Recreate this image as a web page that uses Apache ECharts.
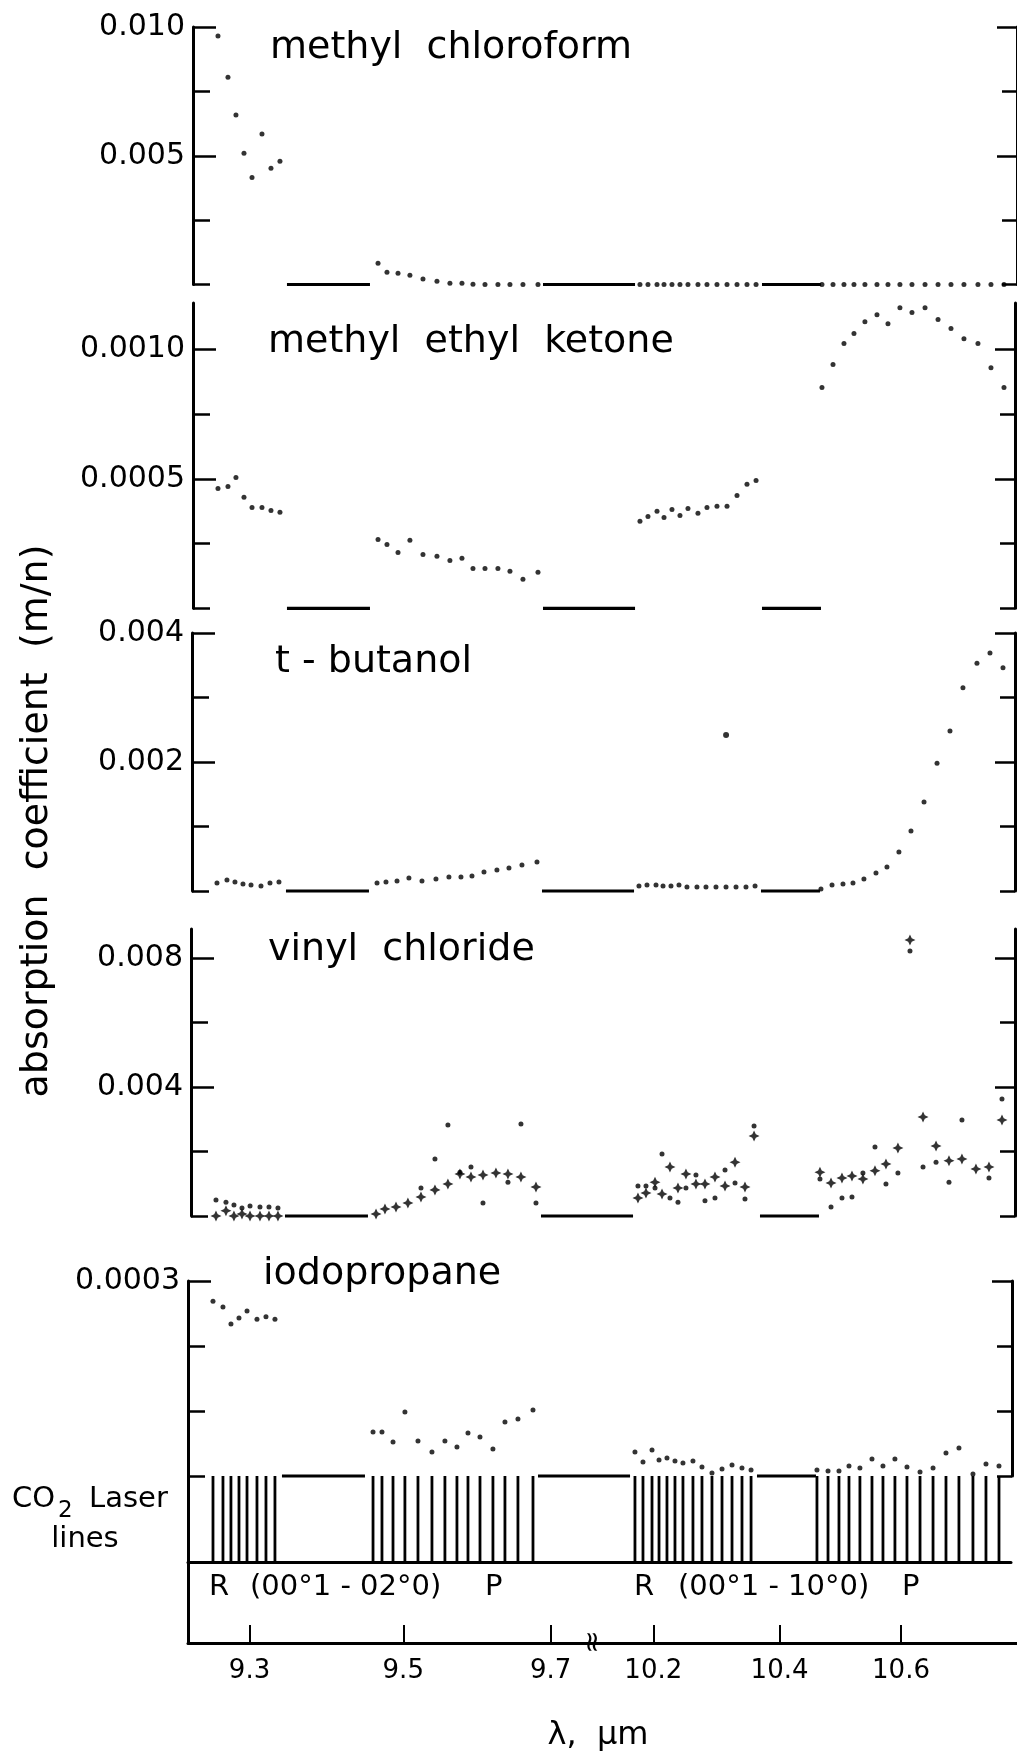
<!DOCTYPE html>
<html><head><meta charset="utf-8">
<script src="https://cdn.jsdelivr.net/npm/echarts@6/dist/echarts.min.js"></script>
<style>html,body{margin:0;padding:0;background:#fff}#c{width:1017px;height:1755px}</style>
</head><body><div id="c"></div>
<script>
// ---------------- DATA ----------------
// CO2 laser line wavelengths (µm): 9R, 9P, 10R, 10P branches
const laserLines = [
  9.2537, 9.2663, 9.2764, 9.2866, 9.2968, 9.3095, 9.3210, 9.3325,
  9.4600, 9.4718, 9.4864, 9.5022, 9.5196, 9.5383, 9.5557, 9.5719, 9.5868, 9.6031, 9.6207, 9.6371, 9.6549, 9.6756,
  10.1716, 10.1840, 10.1980, 10.2089, 10.2213, 10.2338, 10.2463, 10.2620, 10.2762, 10.2920, 10.3079, 10.3238, 10.3397, 10.3542,
  10.4608, 10.4789, 10.4969, 10.5134, 10.5315, 10.5515, 10.5698, 10.5898, 10.6100, 10.6320, 10.6540, 10.6760, 10.6981, 10.7221, 10.7445, 10.7670
];
// absorption coefficients at each laser line
const methylChloroform = [
  0.00965, 0.00805, 0.00658, 0.00510, 0.00416, 0.00584, 0.00451, 0.00479,
  0.00083, 0.00048, 0.00044, 0.00036, 0.00021, 0.00013, 0.00005, 0.00005, 0.00001, 0, 0, 0, 0, 0,
  0, 0, 0, 0, 0, 0, 0, 0, 0, 0, 0, 0, 0, 0,
  0, 0, 0, 0, 0, 0, 0, 0, 0, 0, 0, 0, 0, 0, 0, 0
];
const methylEthylKetone = [
  0.000463, 0.000471, 0.000506, 0.000429, 0.000390, 0.000390, 0.000378, 0.000371,
  0.000266, 0.000247, 0.000216, 0.000263, 0.000208, 0.000201, 0.000185, 0.000193, 0.000154, 0.000154, 0.000154, 0.000143, 0.000112, 0.000139,
  0.000336, 0.000355, 0.000375, 0.000351, 0.000382, 0.000359, 0.000386, 0.000367, 0.000390, 0.000394, 0.000394, 0.000436, 0.000479, 0.000494,
  0.000853, 0.000942, 0.001023, 0.001062, 0.001108, 0.001135, 0.001100, 0.001162, 0.001143, 0.001162, 0.001116, 0.001081, 0.001042, 0.001023, 0.000930, 0.000853
];
const tButanol = [
  0.000124, 0.000171, 0.000140, 0.000109, 0.000093, 0.000078, 0.000124, 0.000140,
  0.000124, 0.000140, 0.000155, 0.000202, 0.000155, 0.000186, 0.000217, 0.000217, 0.000233, 0.000295, 0.000326, 0.000357, 0.000403, 0.000450,
  0.000078, 0.000093, 0.000093, 0.000078, 0.000078, 0.000093, 0.000062, 0.000062, 0.000062, 0.000062, 0.000062, 0.000062, 0.000062, 0.000078,
  0.000031, 0.000093, 0.000109, 0.000124, 0.000186, 0.000279, 0.000372, 0.000605, 0.000930, 0.00138, 0.00198, 0.00248, 0.00315, 0.00353, 0.00369, 0.00346
];
const tButanolStray = [[10.308, 0.00242]];
const vinylChlorideCross = [
  0, 0.00016, 0, 0.00006, 0, 0, 0, 0,
  0.00006, 0.00022, 0.00028, 0.00040, 0.00059, 0.00081, 0.00099, 0.00130, 0.00121, 0.00127, 0.00133, 0.00130, 0.00121, 0.00090,
  0.00056, 0.00071, 0.00105, 0.00068, 0.00152, 0.00087, 0.00130, 0.00099, 0.00099, 0.00121, 0.00093, 0.00167, 0.00090, 0.00248,
  0.00136, 0.00102, 0.00118, 0.00124, 0.00115, 0.00140, 0.00161, 0.00211, 0.00856, 0.00307, 0.00217, 0.00171, 0.00177, 0.00146, 0.00152, 0.00298
];
const vinylChlorideDot = [
  0.00050, 0.00043, 0.00034, 0.00025, 0.00031, 0.00028, 0.00028, 0.00025,
  null, null, null, null, 0.00087, 0.00177, 0.00282, 0.00136, 0.00152, 0.00040, null, 0.00105, 0.00285, 0.00040,
  0.00093, 0.00093, 0.00087, 0.00192, 0.00056, 0.00043, 0.00087, 0.00127, 0.00047, 0.00056, 0.00143, 0.00102, 0.00053, 0.00279,
  0.00115, 0.00028, 0.00056, 0.00059, 0.00133, 0.00214, 0.00099, 0.00133, 0.00822, 0.00152, 0.00167, 0.00105, 0.00298, null, 0.00118, 0.00363
];
const iodopropane = [
  0.000269, 0.000260, 0.000234, 0.000243, 0.000254, 0.000241, 0.000245, 0.000241,
  0.0000677, 0.0000677, 0.0000523, 0.0000984, 0.0000538, 0.0000369, 0.0000538, 0.0000446, 0.0000661, 0.0000600, 0.0000415, 0.0000830, 0.0000877, 0.0001015,
  0.0000369, 0.0000215, 0.0000400, 0.0000246, 0.0000277, 0.0000231, 0.0000200, 0.0000231, 0.0000138, 0.0000046, 0.0000108, 0.0000169, 0.0000123, 0.0000092,
  0.0000092, 0.0000077, 0.0000077, 0.0000154, 0.0000123, 0.0000261, 0.0000154, 0.0000261, 0.0000138, 0.0000062, 0.0000123, 0.0000354, 0.0000431, 0.0000031, 0.0000185, 0.0000154
];
// zero-baseline segments between laser bands (µm)
const zeroSegments = [[9.3415, 9.4494], [9.6825, 10.1640], [10.3637, 10.4592]];
// x tick labels (µm)
const xTicksLeft = [9.3, 9.5, 9.7];
const xTicksRight = [10.2, 10.4, 10.6];
// y ticks per panel
const yTicks1 = [0, 0.0025, 0.005, 0.0075, 0.010], yLabels1 = [0.005, 0.010];
const yTicks2 = [0, 0.00025, 0.0005, 0.00075, 0.001], yLabels2 = [0.0005, 0.001];
const yTicks3 = [0, 0.001, 0.002, 0.003, 0.004], yLabels3 = [0.002, 0.004];
const yTicks4 = [0, 0.002, 0.004, 0.006, 0.008], yLabels4 = [0.004, 0.008];
const yTicks5 = [0, 0.0001, 0.0002, 0.0003], yLabels5 = [0.0003];

// ---------------- LAYOUT ----------------
const FONT = 'DejaVu Sans';
const X0 = 188, XB = 594, W_L = XB - X0;
const PX_WN_L = 6.791, PX_WN_R = 6.696;   // px per cm^-1 (axis linear in wavenumber)
const WN_L_MAX = 1e4 / 9.2223, WN_R_MAX = 1e4 / 10.1087;
const WN_L_MIN = WN_L_MAX - W_L / PX_WN_L;
const LAMBDA_BREAK_L = 1e4 / WN_L_MIN, LAMBDA_BREAK_R = 1e4 / WN_R_MAX;
const wn = l => 1e4 / l;

const grid = [], xAxis = [], yAxis = [], series = [];

function addPair(shift, top, bottom, rEdge, xShow) {
  const h = bottom - top;
  const gL = grid.length;
  const wR = rEdge - XB - shift;
  grid.push({left: X0 + shift, top: top, width: W_L, height: h});
  grid.push({left: XB + shift, top: top, width: wR, height: h});
  const xi = xAxis.length;
  const base = {type: 'value', inverse: true, show: false, splitLine: {show: false}};
  xAxis.push(Object.assign({}, base, {gridIndex: gL, min: WN_L_MIN, max: WN_L_MAX}, xShow ? xShow(xTicksLeft) : {}));
  xAxis.push(Object.assign({}, base, {gridIndex: gL + 1, min: WN_R_MAX - wR / PX_WN_R, max: WN_R_MAX}, xShow ? xShow(xTicksRight) : {}));
  return {gL: gL, gR: gL + 1, xL: xi, xR: xi + 1};
}

function addY(gridIndex, pos, max, major, minor, majLen, minLen, fmt, showLine) {
  const idx = yAxis.length;
  yAxis.push({
    gridIndex: gridIndex, type: 'value', position: pos, min: 0, max: max,
    axisLine: {show: showLine !== false, onZero: false, lineStyle: {color: '#000', width: 3}},
    axisTick: major && major.length ? {show: true, inside: true, length: majLen, customValues: major, lineStyle: {color: '#000', width: 2.5}} : {show: false},
    axisLabel: fmt ? {show: true, customValues: major, formatter: fmt, fontSize: 30, fontFamily: FONT, color: '#000', margin: 8} : {show: false},
    splitLine: {show: false}
  });
  if (minor && minor.length) {
    yAxis.push({
      gridIndex: gridIndex, type: 'value', position: pos, min: 0, max: max,
      axisLine: {show: false, onZero: false},
      axisTick: {show: true, inside: true, length: minLen, customValues: minor, lineStyle: {color: '#000', width: 2.5}},
      axisLabel: {show: false}, splitLine: {show: false}
    });
  }
  return idx;
}

const STAR = 'path://M0,-5L1.6,-1.6L5,0L1.6,1.6L0,5L-1.6,1.6L-5,0L-1.6,-1.6Z';

const panels = [
  {s: 5, top: 27, bottom: 284.5, r: 1017, max: 0.010, ticks: yTicks1, labels: yLabels1, dec: 3,
   sets: [{vals: methylChloroform, sym: 'circle', size: 5}]},
  {s: 5, top: 303, bottom: 608.3, r: 1015, max: 0.00118, ticks: yTicks2, labels: yLabels2, dec: 4,
   sets: [{vals: methylEthylKetone, sym: 'circle', size: 5}]},
  {s: 4, top: 633, bottom: 891, r: 1015, max: 0.004, ticks: yTicks3, labels: yLabels3, dec: 3,
   sets: [{vals: tButanol, sym: 'circle', size: 5}, {pairs: tButanolStray, sym: 'circle', size: 6}]},
  {s: 3, top: 929, bottom: 1216, r: 1015, max: 0.0089, ticks: yTicks4, labels: yLabels4, dec: 3,
   sets: [{vals: vinylChlorideCross, sym: STAR, size: 11}, {vals: vinylChlorideDot, sym: 'circle', size: 5}]},
  {s: 0, top: 1281, bottom: 1476, r: 1012, max: 0.0003, ticks: yTicks5, labels: yLabels5, dec: 4,
   sets: [{vals: iodopropane, sym: 'circle', size: 5}]}
];

panels.forEach(function (p) {
  const g = addPair(p.s, p.top, p.bottom, p.r);
  const minor = p.ticks.filter(v => p.labels.indexOf(v) < 0);
  const fmt = v => v.toFixed(p.dec);
  const yl = addY(g.gL, 'left', p.max, p.labels, minor, 23, 17, fmt, true);
  const yr = addY(g.gR, 'right', p.max, p.labels, minor, 20, 15, null, true);
  const sides = [
    {x: g.xL, y: yl, test: l => l < 10, clamp: seg => [seg[0], Math.min(seg[1], LAMBDA_BREAK_L)]},
    {x: g.xR, y: yr, test: l => l > 10, clamp: seg => [Math.max(seg[0], LAMBDA_BREAK_R), seg[1]]}
  ];
  sides.forEach(function (sd) {
    p.sets.forEach(function (st) {
      let pts = st.pairs ? st.pairs.map(d => [d[0], d[1]]) : laserLines.map((l, i) => [l, st.vals[i]]);
      pts = pts.filter(d => d[1] != null && sd.test(d[0])).map(d => [wn(d[0]), d[1]]);
      series.push({type: 'scatter', xAxisIndex: sd.x, yAxisIndex: sd.y, data: pts, symbol: st.sym,
        symbolSize: st.size, itemStyle: {color: '#000'}, silent: true, clip: false});
    });
    zeroSegments.forEach(function (seg) {
      if (sd.test(seg[0]) || sd.test(seg[1])) {
        const c = sd.clamp(seg);
        series.push({type: 'line', xAxisIndex: sd.x, yAxisIndex: sd.y, data: [[wn(c[0]), 0], [wn(c[1]), 0]],
          symbol: 'none', showSymbol: false, clip: false, silent: true, lineStyle: {color: '#000', width: 3.2, cap: 'butt'}});
      }
    });
  });
});

// laser lines panel
const laserX = () => ({show: true, axisLine: {show: true, onZero: false, lineStyle: {color: '#000', width: 3}},
  axisTick: {show: false}, axisLabel: {show: false}});
const gl = addPair(0, 1476, 1562, 1011, laserX);
const ylL = addY(gl.gL, 'left', 1, [], [], 0, 0, null, true);
const ylR = addY(gl.gR, 'right', 1, [], [], 0, 0, null, false);
[{x: gl.xL, y: ylL, test: l => l < 10}, {x: gl.xR, y: ylR, test: l => l > 10}].forEach(function (sd) {
  series.push({type: 'bar', xAxisIndex: sd.x, yAxisIndex: sd.y, barWidth: 2.8, silent: true,
    itemStyle: {color: '#000'}, data: laserLines.filter(sd.test).map(l => [wn(l), 1])});
});

// bottom wavelength axis
const bottomX = ticks => ({show: true,
  axisLine: {show: true, onZero: false, lineStyle: {color: '#000', width: 3}},
  axisTick: {show: true, inside: true, length: 18, customValues: ticks.map(wn), lineStyle: {color: '#000', width: 2}},
  axisLabel: {show: true, customValues: ticks.map(wn), formatter: v => (1e4 / v).toFixed(1), fontSize: 26,
    fontFamily: FONT, color: '#000', margin: 15}});
const gb = addPair(0, 1562, 1643, 1017, bottomX);
addY(gb.gL, 'left', 1, [], [], 0, 0, null, true);
addY(gb.gR, 'right', 1, [], [], 0, 0, null, false);

// ---------------- TEXT ----------------
function txt(text, x, y, size, align, extra) {
  return Object.assign({type: 'text', x: x, y: y, silent: true,
    style: {text: text, font: size + 'px "' + FONT + '"', fill: '#000',
      textAlign: align || 'left', align: align || 'left', textVerticalAlign: 'middle', verticalAlign: 'middle'}}, extra || {});
}
const graphic = [
  txt('methyl  chloroform', 270, 48, 38),
  txt('methyl  ethyl  ketone', 268, 342, 38),
  txt('t - butanol', 275, 662, 38),
  txt('vinyl  chloride', 268, 950, 38),
  txt('iodopropane', 263, 1274, 38),
  txt('absorption  coefficient  (m/n)', 37, 821, 38, 'center', {rotation: Math.PI / 2}),
  txt('CO', 12, 1499, 29),
  txt('2', 58, 1511, 23),
  txt('Laser', 89, 1499, 29),
  txt('lines', 85, 1539, 29, 'center'),
  txt('R', 209, 1587, 29),
  txt('(00°1 - 02°0)', 250, 1587, 29),
  txt('P', 485, 1587, 29),
  txt('R', 634, 1587, 29),
  txt('(00°1 - 10°0)', 678, 1587, 29),
  txt('P', 902, 1587, 29),
  txt('≈', 594, 1642, 28, 'center', {rotation: Math.PI / 2}),
  txt('λ,  μm', 598, 1736, 32, 'center')
];

const chart = echarts.init(document.getElementById('c'), null, {renderer: 'canvas', width: 1017, height: 1755});
chart.setOption({
  backgroundColor: '#fff',
  animation: false,
  grid: grid, xAxis: xAxis, yAxis: yAxis, series: series, graphic: graphic
});
</script></body></html>
